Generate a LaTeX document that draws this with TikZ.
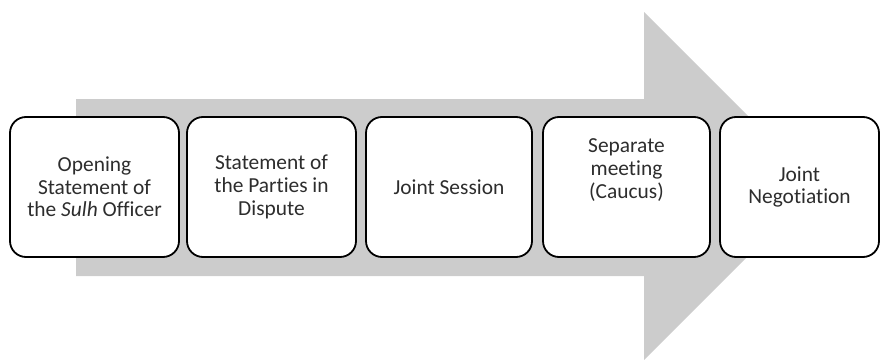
\documentclass[tikz,border=0pt]{standalone}
\usepackage{fontspec}
\setmainfont{Carlito}[Ligatures={NoCommon}]
\begin{document}
\begin{tikzpicture}[x=1pt,y=-1pt,
  stepbox/.style={draw=black,line width=1.8pt,fill=white,rounded corners=16pt,
    minimum height=140pt,inner sep=0pt,text=txtc,align=center,
    font=\fontsize{21.4}{22.7}\selectfont},
  steptext/.style={text=txtc,align=center,inner sep=0pt,
    font=\fontsize{21.4}{22.7}\selectfont}]
\definecolor{arrowc}{RGB}{204,204,204}
\definecolor{txtc}{RGB}{45,45,45}
\useasboundingbox (0,0) rectangle (881,359);
% big arrow
\fill[arrowc] (76,99) -- (644,99) -- (644,12) -- (818,186) -- (644,360) -- (644,276) -- (76,276) -- cycle;
% boxes
\node[stepbox,minimum width=169pt] (b1) at (94.5,187) {Opening\\Statement of\\the \emph{Sulh} Officer};
\node[stepbox,minimum width=169pt] (b2) at (271.5,187) {Statement of\\the Parties in\\Dispute};
\node[stepbox,minimum width=166pt] (b3) at (449,187) {Joint Session};
\node[stepbox,minimum width=167pt] (b4) at (626.5,187) {};
\node[steptext] (t4) at ([yshift=17pt]b4.center) {Separate\\meeting\\(Caucus)};
\node[stepbox,minimum width=159pt] (b5) at (799.5,187) {Joint\\Negotiation};
\end{tikzpicture}
\end{document}
